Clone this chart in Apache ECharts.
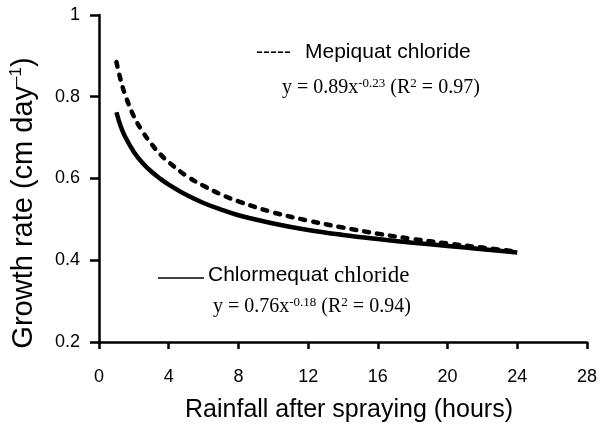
<!DOCTYPE html>
<html>
<head>
<meta charset="utf-8">
<script src="https://cdn.jsdelivr.net/npm/echarts@6/dist/echarts.min.js"></script>
<style>
  html, body { margin: 0; padding: 0; background: #fff; }
  #chart { width: 600px; height: 428px; }
</style>
</head>
<body>
<div id="chart"></div>
<script>
var hours = [1, 1.25, 1.5, 2, 2.5, 3, 3.5, 4, 5, 6, 7, 8, 10, 12, 14, 16, 18, 20, 22, 24];
// Mepiquat chloride (dashed)
var mepiquat = [0.885, 0.84, 0.805, 0.752, 0.715, 0.685, 0.66, 0.64, 0.607, 0.582, 0.561, 0.544, 0.517, 0.497, 0.48, 0.465, 0.452, 0.441, 0.431, 0.421];
// Chlormequat chloride (solid)
var chlormequat = [0.762, 0.727, 0.702, 0.665, 0.638, 0.617, 0.6, 0.585, 0.56, 0.54, 0.524, 0.51, 0.49, 0.474, 0.462, 0.452, 0.443, 0.435, 0.427, 0.419];
var xTicks = [0, 4, 8, 12, 16, 20, 24, 28];
var yTicks = [0.2, 0.4, 0.6, 0.8, 1];

function pairs(xs, ys) {
  var out = [];
  for (var i = 0; i < xs.length; i++) out.push([xs[i], ys[i]]);
  return out;
}

var sans = 'Liberation Sans, Arial, sans-serif';
var serif = 'Liberation Serif, Times New Roman, serif';

var myChart = echarts.init(document.getElementById('chart'), null, { renderer: 'canvas' });

var option = {
  animation: false,
  backgroundColor: '#fff',
  grid: { left: 99, right: 11, top: 15, bottom: 82 },
  xAxis: {
    type: 'value',
    min: xTicks[0],
    max: xTicks[xTicks.length - 1],
    interval: 4,
    name: 'Rainfall after spraying (hours)',
    nameLocation: 'middle',
    nameGap: 56,
    nameTextStyle: { fontFamily: sans, fontSize: 25, color: '#000', padding: [0, 0, 0, 12] },
    axisLine: { lineStyle: { color: '#000', width: 2.5 } },
    axisTick: { inside: false, length: 7, lineStyle: { color: '#000', width: 2.5 } },
    axisLabel: { fontFamily: sans, fontSize: 18, color: '#000', margin: 26 },
    splitLine: { show: false }
  },
  yAxis: {
    type: 'value',
    min: yTicks[0],
    max: yTicks[yTicks.length - 1],
    interval: 0.2,
    axisLine: { show: true, lineStyle: { color: '#000', width: 2.5 } },
    axisTick: { show: true, inside: false, length: 9, lineStyle: { color: '#000', width: 2.5 } },
    axisLabel: {
      fontFamily: sans, fontSize: 18, color: '#000', margin: 19,
      formatter: function (v) { return v === 1 ? '1' : v.toFixed(1); }
    },
    splitLine: { show: false }
  },
  series: [
    {
      name: 'Mepiquat chloride',
      type: 'line',
      smooth: 0.4,
      symbol: 'none',
      data: pairs(hours, mepiquat),
      lineStyle: { color: '#000', width: 4.5, type: [5, 8], cap: 'round' }
    },
    {
      name: 'Chlormequat chloride',
      type: 'line',
      smooth: 0.4,
      symbol: 'none',
      data: pairs(hours, chlormequat),
      lineStyle: { color: '#000', width: 4.5 }
    }
  ],
  graphic: [
    {
      // y axis title, sits a bit below the plot centre as in the original
      type: 'text', x: 24, y: 203, rotation: Math.PI / 2,
      style: {
        text: '{n|Growth rate (cm day}{s|\u20131}{n|)}',
        align: 'center', verticalAlign: 'middle',
        rich: {
          n: { fontFamily: sans, fontSize: 29, fill: '#000', lineHeight: 32 },
          s: { fontFamily: sans, fontSize: 17, fill: '#000', verticalAlign: 'top', lineHeight: 32 }
        }
      }
    },
    {
      type: 'text', left: 256, top: 42,
      style: { text: '-----', font: '21px ' + sans, fill: '#000' }
    },
    {
      type: 'text', left: 305, top: 42,
      style: { text: 'Mepiquat chloride', font: '21px ' + sans, fill: '#000' }
    },
    {
      type: 'text', left: 282, top: 77,
      style: {
        text: '{n|y = 0.89x}{s|-0.23}{n| (R}{s|2}{n| = 0.97)}',
        rich: {
          n: { fontFamily: serif, fontSize: 20, fill: '#000', lineHeight: 22 },
          s: { fontFamily: serif, fontSize: 13, fill: '#000', lineHeight: 22, verticalAlign: 'top' }
        }
      }
    },
    {
      type: 'line',
      shape: { x1: 158, y1: 278, x2: 204, y2: 278 },
      style: { stroke: '#000', lineWidth: 1.5 }
    },
    {
      type: 'text', left: 208, top: 264,
      style: {
        text: '{a|Chlormequat }{b|chloride}',
        rich: {
          a: { fontFamily: sans, fontSize: 21, fill: '#000' },
          b: { fontFamily: serif, fontSize: 23, fill: '#000' }
        }
      }
    },
    {
      type: 'text', left: 213, top: 296,
      style: {
        text: '{n|y = 0.76x}{s|-0.18}{n| (R}{s|2}{n| = 0.94)}',
        rich: {
          n: { fontFamily: serif, fontSize: 20, fill: '#000', lineHeight: 22 },
          s: { fontFamily: serif, fontSize: 13, fill: '#000', lineHeight: 22, verticalAlign: 'top' }
        }
      }
    }
  ]
};

myChart.setOption(option);
window.addEventListener('resize', myChart.resize);
</script>
</body>
</html>
